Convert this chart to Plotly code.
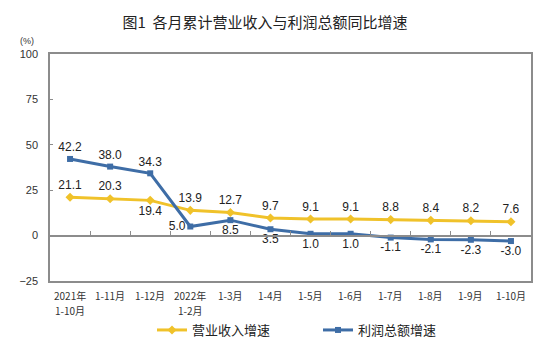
import plotly.graph_objects as go

# Months (cumulative periods)
categories = ["2021年<br>1-10月", "1-11月", "1-12月", "2022年<br>1-2月", "1-3月", "1-4月",
              "1-5月", "1-6月", "1-7月", "1-8月", "1-9月", "1-10月"]

# Year-on-year growth rates (%)
revenue_growth = [21.1, 20.3, 19.4, 13.9, 12.7, 9.7, 9.1, 9.1, 8.8, 8.4, 8.2, 7.6]
profit_growth = [42.2, 38.0, 34.3, 5.0, 8.5, 3.5, 1.0, 1.0, -1.1, -2.1, -2.3, -3.0]

revenue_pos = ["top center"] * 12
revenue_pos[2] = "bottom center"
profit_pos = ["top center"] * 3 + ["middle left"] + ["bottom center"] * 8

YELLOW = "#F0C22A"
BLUE = "#3E6DA6"
AXIS = "#8c8c8c"
LABEL_FONT = dict(family="Liberation Sans, Arial, sans-serif", size=12, color="#222")
CJK = "Noto Sans CJK SC, sans-serif"

# plot area in pixels
W, H = 556, 349
L, R, T, B = 50, 25, 54, 68
PH = H - T - B

fig = go.Figure()

fig.add_trace(go.Scatter(
    x=categories, y=revenue_growth, name="营业收入增速",
    mode="lines+markers+text",
    line=dict(color=YELLOW, width=3),
    marker=dict(symbol="diamond", size=7, color=YELLOW),
    text=[f"{v:.1f}" for v in revenue_growth], textposition=revenue_pos,
    textfont=LABEL_FONT, cliponaxis=False,
))
fig.add_trace(go.Scatter(
    x=categories, y=profit_growth, name="利润总额增速",
    mode="lines+markers+text",
    line=dict(color=BLUE, width=3),
    marker=dict(symbol="square", size=6, color=BLUE),
    text=[f"{v:.1f}" for v in profit_growth], textposition=profit_pos,
    textfont=LABEL_FONT, cliponaxis=False,
))
# helper trace that gives the zero-line axis its categories
fig.add_trace(go.Scatter(
    x=categories, y=[0] * len(categories), xaxis="x2", mode="lines",
    line=dict(width=0), opacity=0, showlegend=False, hoverinfo="skip",
))

fig.update_layout(
    width=W, height=H,
    margin=dict(l=L, r=R, t=T, b=B, autoexpand=False),
    paper_bgcolor="white", plot_bgcolor="white",
    title=dict(text="图1  各月累计营业收入与利润总额同比增速",
               x=265 / W, xanchor="center", y=1 - 23 / H, yanchor="middle",
               font=dict(family=CJK, size=15, color="#222")),
    xaxis=dict(
        type="category", range=[-0.5, 11.5],
        showline=True, linecolor=AXIS, linewidth=1.5, mirror=True,
        ticks="", showgrid=False, zeroline=False, showticklabels=False,
    ),
    xaxis2=dict(
        type="category", range=[-0.5, 11.5], overlaying="x",
        anchor="free", position=0.2, side="bottom",
        showline=True, linecolor=AXIS, linewidth=1.5,
        ticks="inside", tickson="boundaries", ticklen=4, tickcolor=AXIS,
        showticklabels=False, showgrid=False, zeroline=False,
    ),
    yaxis=dict(
        range=[-25, 100], tickmode="linear", tick0=-25, dtick=25,
        showline=True, linecolor=AXIS, linewidth=1.5, mirror=True,
        ticks="inside", ticklen=3, tickcolor=AXIS,
        showgrid=False, zeroline=False,
        tickfont=dict(family="Liberation Sans, Arial, sans-serif", size=11, color="#333"),
        ticklabelstandoff=8,
    ),
    legend=dict(
        orientation="h", x=(152 - L) / (W - L - R), xanchor="left",
        y=(H - B - 330) / PH, yanchor="middle", entrywidth=121,
        font=dict(family=CJK, size=13, color="#222"),
    ),
    showlegend=True,
)

# category labels below the plot, one text per line
for cat in categories:
    for i, line in enumerate(cat.split("<br>")):
        fig.add_annotation(
            text=line, xref="x", yref="paper", x=cat,
            y=(H - B - (295 + 15 * i)) / PH, yanchor="middle", xanchor="center",
            showarrow=False,
            font=dict(family=CJK, size=10, color="#333"),
        )

fig.add_annotation(
    text="(%)", xref="paper", yref="paper", x=-0.048, y=(H - B - 41) / PH,
    xanchor="center", yanchor="middle", showarrow=False,
    font=dict(family="Liberation Sans, Arial, sans-serif", size=9, color="#333"),
)

fig.write_html("out.html")
